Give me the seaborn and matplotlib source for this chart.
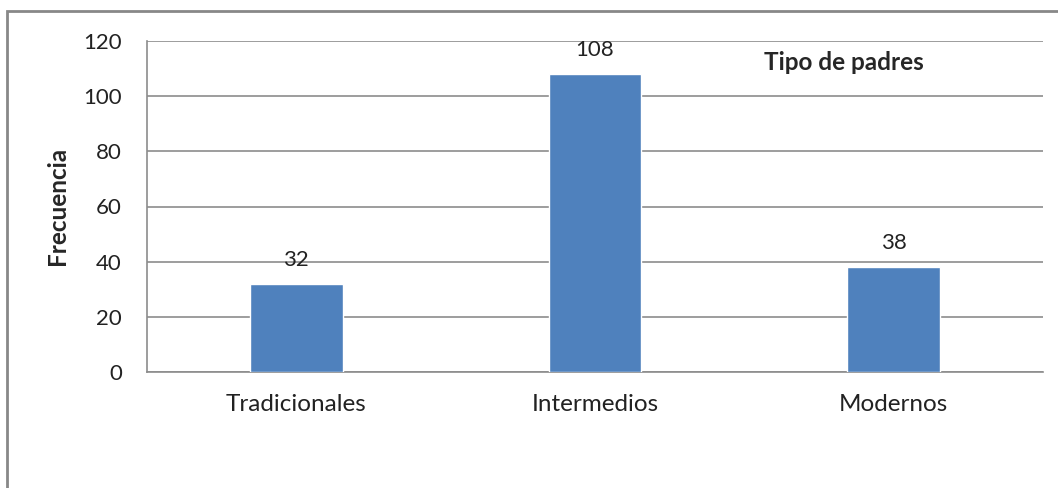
import matplotlib
matplotlib.use("Agg")
import matplotlib.pyplot as plt
import seaborn as sns
import pandas as pd

categories = ["Tradicionales", "Intermedios", "Modernos"]
values = [32, 108, 38]
yticks = [0, 20, 40, 60, 80, 100, 120]

sns.set_style("white")
plt.rcParams['font.family'] = ['Lato', 'DejaVu Sans']

df = pd.DataFrame({"cat": categories, "val": values})

fig = plt.figure(figsize=(10.58, 4.88), dpi=100)
ax = fig.add_axes([147/1058, 1-372/488, (1043-147)/1058, (372-41)/488])

sns.barplot(data=df, x="cat", y="val", color="#4F81BD", saturation=1,
            width=0.31, ax=ax, zorder=3)

ax.set_ylim(0, 120)
ax.set_yticks(yticks)
ax.set_yticklabels([str(t) for t in yticks], fontsize=16, color="#222222")
ax.tick_params(axis='x', labelsize=17.5, colors="#222222", length=0, pad=16)
ax.tick_params(axis='y', length=0, pad=18)
ax.grid(axis='y', color="#8c8c8c", linewidth=1.2, zorder=0)
ax.set_axisbelow(True)
for s in ["top", "right"]:
    ax.spines[s].set_visible(False)
ax.spines["left"].set_color("#8c8c8c")
ax.spines["bottom"].set_color("#8c8c8c")
ax.spines["left"].set_linewidth(1.2)
ax.spines["bottom"].set_linewidth(1.2)

ax.set_xlabel("")
ax.set_ylabel("")
fig.text(57.5/1058, 1-205.5/488, "Frecuencia", fontsize=17.5, fontweight="bold",
         rotation=90, ha="center", va="center")

for p, v in zip(ax.patches, values):
    ax.annotate(str(v), (p.get_x() + p.get_width()/2, p.get_height()),
                xytext=(0, 13), textcoords="offset points",
                ha="center", va="baseline", fontsize=16, color="#222222",
                zorder=5)

fig.text(844/1058, 1-63/488, "Tipo de padres", fontsize=17.5, fontweight="bold",
         ha="center", va="center")

# outer border of chart area
border = plt.Rectangle((7/1058, -0.05), 1.2, 1-11/488 + 0.05, transform=fig.transFigure,
                       fill=False, edgecolor="#888888", linewidth=2)
fig.patches.append(border)

fig.savefig("out.png", dpi=100)
